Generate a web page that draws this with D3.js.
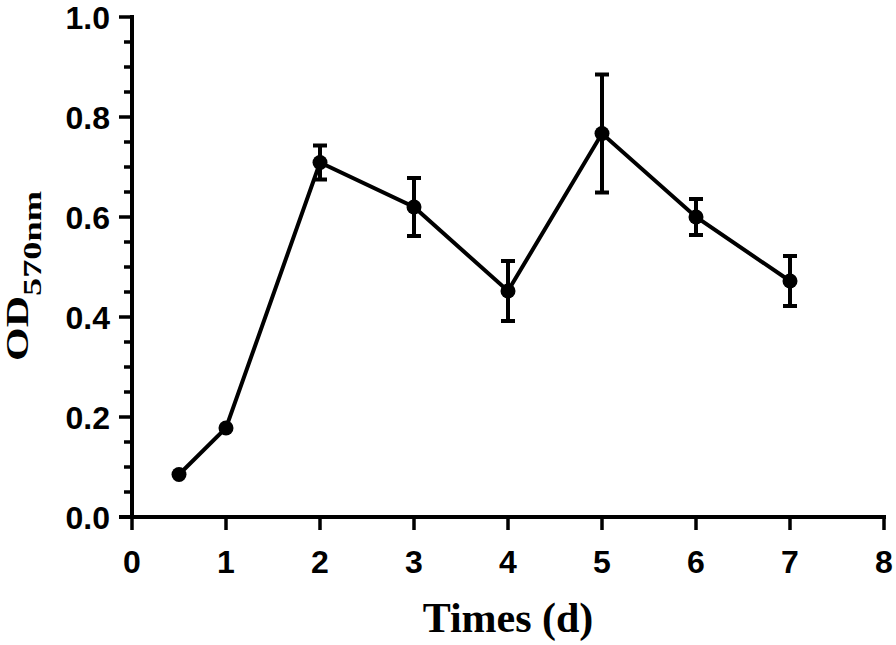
<!DOCTYPE html>
<html lang="en">
<head>
<meta charset="UTF-8">
<title>OD570nm over time</title>
<script src="https://d3js.org/d3.v7.min.js"></script>
<style>
    body { margin: 0; background: #fff; }
    svg { display: block; }
    .tick-label { font-family: "Liberation Sans", Arial, sans-serif; font-weight: bold; font-size: 32px; fill: #000; }
    .title { font-family: "Liberation Serif", "Times New Roman", serif; font-weight: bold; fill: #000; }
</style>
</head>
<body>
<svg width="896" height="645"></svg>
<script>
    // data
    const days = [0.5, 1, 2, 3, 4, 5, 6, 7];
    const od = [0.085, 0.178, 0.709, 0.620, 0.452, 0.767, 0.600, 0.472];
    const sd = [0, 0, 0.034, 0.058, 0.060, 0.118, 0.036, 0.050];
    const xTicks = [0, 1, 2, 3, 4, 5, 6, 7, 8];
    const yTicks = [0.0, 0.2, 0.4, 0.6, 0.8, 1.0];

    const margin = {left: 132, right: 12, top: 17, bottom: 128};
    const svg = d3.select("svg");
    const width = 896 - margin.left - margin.right;
    const height = 645 - margin.top - margin.bottom;

    const x = d3.scaleLinear().domain([0, 8]).range([0, width]);
    const y = d3.scaleLinear().domain([0, 1]).range([height, 0]);

    const g = svg.append("g").attr("transform", `translate(${margin.left},${margin.top})`);

    // y axis: major + minor ticks
    const yAxis = g.append("g");
    yAxis.append("line")
        .attr("x1", 0).attr("x2", 0).attr("y1", y(1) - 2).attr("y2", y(0))
        .attr("stroke", "#000").attr("stroke-width", 4);
    const minor = d3.range(0, 1.0001, 0.05);
    yAxis.selectAll(".minor").data(minor).enter().append("line")
        .attr("x1", d => (Math.round(d * 100) % 20 === 0) ? -13 : -8)
        .attr("x2", 0)
        .attr("y1", d => y(d)).attr("y2", d => y(d))
        .attr("stroke", "#000").attr("stroke-width", 3.5);
    yAxis.selectAll("text").data(yTicks).enter().append("text")
        .attr("class", "tick-label")
        .attr("x", -22).attr("y", d => y(d))
        .attr("dy", "0.36em")
        .attr("text-anchor", "end")
        .text(d => d3.format(".1f")(d));

    // x axis
    const xAxis = g.append("g").attr("transform", `translate(0,${height})`);
    xAxis.append("line")
        .attr("x1", -13).attr("x2", x(8) + 2)
        .attr("stroke", "#000").attr("stroke-width", 4);
    xAxis.selectAll(".xt").data(xTicks).enter().append("line")
        .attr("x1", d => x(d)).attr("x2", d => x(d))
        .attr("y1", 0).attr("y2", 13)
        .attr("stroke", "#000").attr("stroke-width", 3.5);
    xAxis.selectAll("text").data(xTicks).enter().append("text")
        .attr("class", "tick-label")
        .attr("x", d => x(d)).attr("y", 56)
        .attr("text-anchor", "middle")
        .text(d => d);

    // axis titles
    svg.append("text")
        .attr("class", "title")
        .attr("x", 508).attr("y", 632)
        .attr("text-anchor", "middle")
        .attr("font-size", 42)
        .text("Times (d)");

    const yt = svg.append("text")
        .attr("class", "title")
        .attr("transform", "translate(28,276) rotate(-90) scale(1.4,1)")
        .attr("text-anchor", "middle")
        .attr("font-size", 31);
    yt.append("tspan").text("OD");
    yt.append("tspan").attr("font-size", 26).attr("dy", 13).text("570nm");

    const pts = days.map((d, i) => ({x: d, y: od[i], e: sd[i]}));

    // line
    g.append("path")
        .datum(pts)
        .attr("fill", "none")
        .attr("stroke", "#000")
        .attr("stroke-width", 4)
        .attr("d", d3.line().x(d => x(d.x)).y(d => y(d.y)));

    // error bars
    const eb = g.selectAll(".eb").data(pts.filter(d => d.e > 0)).enter().append("g");
    eb.append("line")
        .attr("x1", d => x(d.x)).attr("x2", d => x(d.x))
        .attr("y1", d => y(d.y + d.e)).attr("y2", d => y(d.y - d.e))
        .attr("stroke", "#000").attr("stroke-width", 4);
    eb.append("line")
        .attr("x1", d => x(d.x) - 7).attr("x2", d => x(d.x) + 7)
        .attr("y1", d => y(d.y + d.e)).attr("y2", d => y(d.y + d.e))
        .attr("stroke", "#000").attr("stroke-width", 4);
    eb.append("line")
        .attr("x1", d => x(d.x) - 7).attr("x2", d => x(d.x) + 7)
        .attr("y1", d => y(d.y - d.e)).attr("y2", d => y(d.y - d.e))
        .attr("stroke", "#000").attr("stroke-width", 4);

    // points
    g.selectAll("circle").data(pts).enter().append("circle")
        .attr("cx", d => x(d.x)).attr("cy", d => y(d.y))
        .attr("r", 7.5)
        .attr("fill", "#000");
</script>
</body>
</html>
